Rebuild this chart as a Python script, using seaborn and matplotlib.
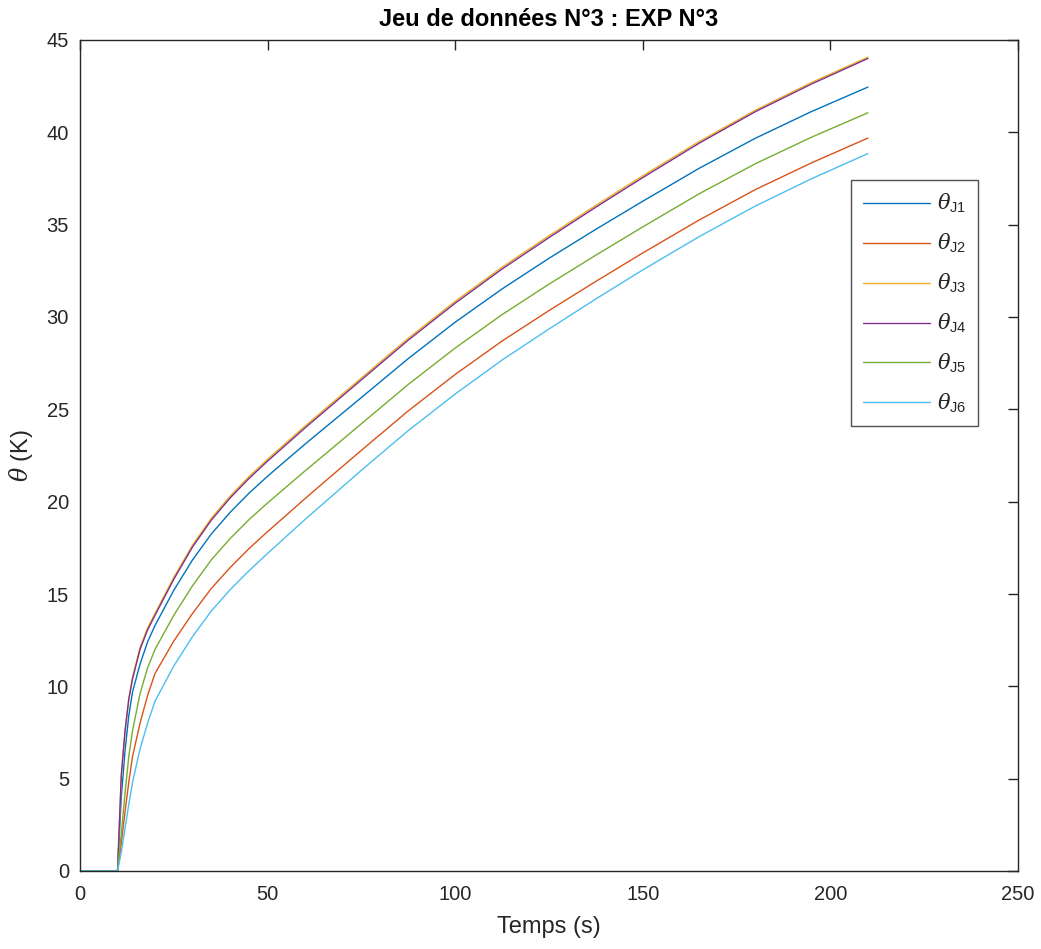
import matplotlib
matplotlib.use("Agg")
import matplotlib.pyplot as plt
import seaborn as sns
import pandas as pd

# Values (time in s, temperature rise in K)
temps = [0, 10, 11, 12, 13, 14, 16, 18, 20, 25, 30, 35, 40, 45, 50, 55, 60, 67.5, 75,
         87.5, 100, 112.5, 125, 137.5, 150, 165, 180, 195, 210]

theta_j1 = [0, 0, 4.0, 6.5, 8.4, 9.7, 11.2, 12.4,
            13.30, 15.20, 16.85, 18.25, 19.42, 20.45, 21.38, 22.25, 23.12, 24.38, 25.64,
            27.75, 29.72, 31.52, 33.18, 34.75, 36.27, 38.05, 39.68, 41.13, 42.45]
theta_j2 = [0, 0, 1.5, 3.2, 4.8, 6.2, 8.0, 9.5,
            10.7, 12.45, 13.95, 15.3, 16.43, 17.45, 18.38, 19.27, 20.17, 21.48, 22.78,
            24.92, 26.89, 28.7, 30.35, 31.93, 33.47, 35.25, 36.9, 38.35, 39.69]
theta_j3 = [0, 0, 5.0, 7.5, 9.3, 10.5, 12.1, 13.15,
            13.95, 15.9, 17.65, 19.1, 20.3, 21.35, 22.3, 23.2, 24.1, 25.4, 26.7,
            28.85, 30.85, 32.7, 34.4, 36.05, 37.65, 39.5, 41.2, 42.7, 44.07]
theta_j4 = [0, 0, 5.2, 7.6, 9.3, 10.4, 12.0, 13.05,
            13.85, 15.8, 17.55, 19.0, 20.2, 21.25, 22.2, 23.1, 24.0, 25.3, 26.6,
            28.75, 30.75, 32.6, 34.3, 35.95, 37.55, 39.41, 41.12, 42.62, 44.0]
theta_j5 = [0, 0, 2.0, 4.2, 6.2, 7.6, 9.6, 11.0,
            12.0, 13.85, 15.45, 16.85, 18.0, 19.02, 19.93, 20.8, 21.67, 22.94, 24.22,
            26.35, 28.32, 30.13, 31.78, 33.35, 34.88, 36.67, 38.3, 39.74, 41.06]
theta_j6 = [0, 0, 1.0, 2.3, 3.6, 4.8, 6.6, 8.0,
            9.2, 11.1, 12.7, 14.08, 15.23, 16.25, 17.2, 18.12, 19.04, 20.37, 21.7,
            23.85, 25.83, 27.67, 29.35, 30.98, 32.55, 34.35, 36.01, 37.49, 38.85]

series_names = ["J1", "J2", "J3", "J4", "J5", "J6"]
series_vals = [theta_j1, theta_j2, theta_j3, theta_j4, theta_j5, theta_j6]
colors = ["#0072BD", "#D95319", "#EDB120", "#7E2F8E", "#77AC30", "#4DBEEE"]

df = pd.concat(
    [pd.DataFrame({"t": temps, "theta": v, "serie": n}) for n, v in zip(series_names, series_vals)],
    ignore_index=True,
)

sns.set_style("white")
plt.rcParams["font.family"] = ["Liberation Sans", "DejaVu Sans"]
plt.rcParams["mathtext.fontset"] = "custom"
plt.rcParams["mathtext.it"] = "DejaVu Serif:italic"
plt.rcParams["mathtext.rm"] = "Liberation Sans"
plt.rcParams["mathtext.sf"] = "Liberation Sans"
axcol = "#262626"

fig = plt.figure(figsize=(10.41, 9.49), dpi=100)
ax = fig.add_axes([80 / 1041, 78 / 949, 938 / 1041, 831 / 949])

sns.lineplot(
    data=df, x="t", y="theta", hue="serie",
    palette=dict(zip(series_names, colors)),
    linewidth=1.0, ax=ax, sort=False, estimator=None,
)

ax.set_xlim(0, 250)
ax.set_ylim(0, 45)
ax.set_xticks(range(0, 251, 50))
ax.set_yticks(range(0, 46, 5))
ax.tick_params(direction="in", length=7, width=1, colors=axcol, labelsize=14.5,
               top=True, right=True)
ax.tick_params(axis="x", pad=10)
ax.tick_params(axis="y", pad=8)
for s in ax.spines.values():
    s.set_visible(True)
    s.set_color(axcol)
    s.set_linewidth(1)

ax.set_xlabel("Temps (s)", fontsize=17, color=axcol, labelpad=9)
ax.set_ylabel(r"$\theta$ (K)", fontsize=17, color=axcol, labelpad=8)
ax.set_title("Jeu de données N°3 : EXP N°3", fontsize=17, fontweight="bold", color="black", pad=10)

handles, _ = ax.get_legend_handles_labels()
labels = [r"$\theta_{\mathrm{J%s}}$" % n[1] for n in series_names]
leg = ax.legend(
    handles, labels, loc="upper right", bbox_to_anchor=(0.957, 0.831),
    fontsize=15, frameon=True, fancybox=False, handlelength=3.25,
    labelspacing=0.8, borderpad=0.55, handletextpad=0.3, borderaxespad=0,
)
leg.get_frame().set_edgecolor(axcol)
leg.get_frame().set_linewidth(1)
for line in leg.get_lines():
    line.set_linewidth(1.0)

fig.savefig("out.png", dpi=100, facecolor="white")
